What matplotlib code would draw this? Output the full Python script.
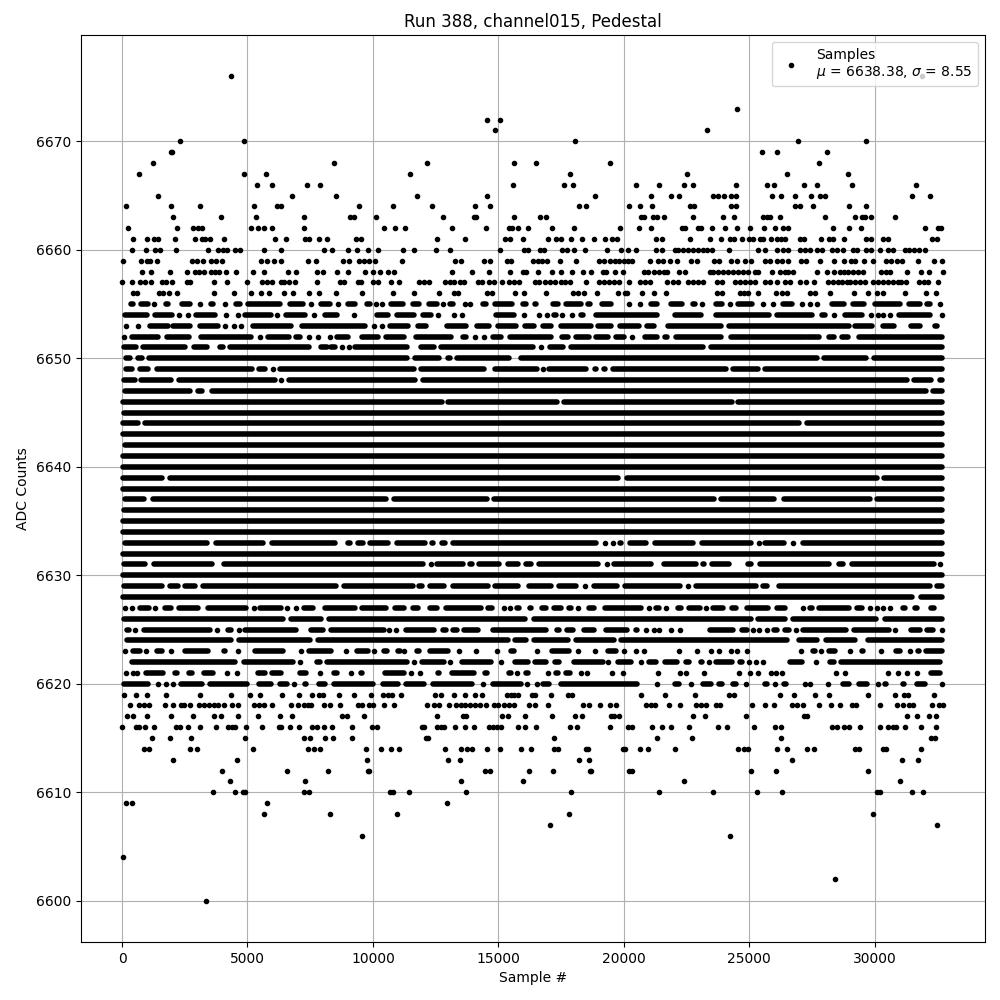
"""
Pedestal samples for run 388, channel015. Stretches where the dots merge into
a solid bar are kept as (first, last) sample runs, the rest as single samples.
"""
import matplotlib

matplotlib.use("Agg")
import matplotlib.pyplot as plt

title = "Run 388, channel015, Pedestal"
legend_label = "Samples\n$\\mu$ = 6638.38, $\\sigma$ = 8.55"

# single samples per ADC level
hits_6676 = [4352, 31895]
hits_6673 = [24530]
hits_6672 = [14541, 15058]
hits_6671 = [14859, 23336]
hits_6670 = [2322, 4870, 18044, 26959, 29666]
hits_6669 = [1964, 2010, 25526, 26123, 28113]
hits_6668 = [1247, 8453, 12152, 15616, 16492, 19438, 27795]
hits_6667 = [690, 4870, 5746, 11476, 17845, 22543, 26521, 28949]
hits_6666 = [5388, 5985, 7378, 7896, 15576, 17606, 17965, 20473, 21388, 22423, 22782,
             24491, 25725, 26003, 27198, 27715, 29109, 31656]
hits_6665 = [1446, 6781, 8533, 11754, 14541, 18840, 21070, 21866, 22224, 23575, 23774,
             24013, 24292, 24491, 25924, 26282, 26839, 27476, 27835, 28034, 31497, 32214]
hits_6664 = [173, 1964, 3118, 5268, 6184, 6343, 9448, 10802, 12351, 14063, 14660, 18203,
             18482, 20194, 20632, 21110, 22662, 22821, 24292, 24491, 26839, 27039, 27556,
             28989, 29666]
hits_6663 = [2044, 3954, 5348, 7259, 9090, 9249, 10125, 12789, 14023, 14103, 15616, 16651,
             16890, 20672, 20791, 21150, 21309, 21587, 22782, 23973, 24411, 25566, 25725,
             25844, 26242, 28034, 29228, 29507, 29626, 29865, 30820]
hits_6662 = [252, 2203, 2840, 3012, 3198, 5149, 5427, 5666, 5985, 7259, 10444, 10901, 11277,
             13148, 14501, 15417, 15536, 15775, 16173, 17129, 18004, 19836, 20592, 21070,
             22344, 22463, 22981, 23071, 23535, 24053, 24530, 25048, 25605, 26043, 26362,
             26561, 28352, 28989, 29467, 32015, 32532, 32651]
hits_6661 = [451, 1008, 1287, 1446, 2123, 2919, 3198, 3318, 3517, 4074, 6104, 6542, 7298,
             7458, 7856, 8174, 9329, 9528, 12550, 13665, 15258, 15457, 15974, 16969, 17288,
             17487, 17885, 18323, 18801, 19238, 19530, 19730, 21269, 21508, 22662, 23456,
             23893, 24239, 24411, 24729, 25008, 25167, 25433, 25566, 25884, 26123, 26282,
             26441, 27025, 27184, 27874, 28193, 28352, 28790, 29666, 29865, 30343, 30542,
             32293, 32492]
hits_6660 = [411, 969, 1327, 1526, 2163, 3437, 3835, 4034, 4193, 4512, 4711, 5666, 6343, 8055,
             8373, 9010, 9369, 9806, 10205, 11210, 11635, 12511, 13068, 15058, 16014, 16173,
             16651, 16810, 17527, 17726, 18004, 18442, 19318, 19876, 20154, 20473, 21269,
             21508, 22065, 22184, 22384, 22583, 22782, 22981, 23177, 23336, 23535, 24212,
             25366, 25645, 26123, 26362, 26561, 27025, 27224, 27423, 27715, 27888, 28312,
             28511, 28750, 29148, 29308, 29679, 29878, 30223, 30542, 30741, 31205, 31378,
             31577, 31776, 32001]
hits_6659 = [53, 770, 1008, 1128, 1407, 2800, 3000, 3238, 3556, 3755, 3994, 5547, 5786, 6064,
             6343, 7418, 7736, 8811, 9050, 9448, 9647, 9846, 10085, 11170, 13267, 13506,
             14422, 14660, 15337, 15496, 16372, 16571, 16730, 16930, 17447, 18084, 19000,
             19199, 19438, 19637, 19796, 19995, 20154, 20313, 21030, 21348, 21547, 21826,
             22105, 22702, 22941, 23615, 23814, 24292, 24530, 24849, 25088, 25645, 25844,
             26123, 26322, 26561, 27078, 27277, 27835, 28392, 28790, 29069, 29228, 29586,
             29945, 30462, 30661, 30900, 31099, 31736, 32373, 32691]
hits_6658 = [809, 1168, 1924, 2601, 2919, 3079, 3278, 3556, 3716, 3875, 4154, 4552, 5228, 5666,
             6622, 6940, 7776, 8015, 8572, 9010, 9687, 10005, 10284, 10603, 10842, 13148,
             13944, 14621, 15457, 15974, 16094, 16571, 17129, 17487, 17925, 18363, 18681,
             19159, 19278, 19637, 19955, 20791, 20950, 21189, 21388, 21587, 21746, 22224,
             22463, 23442, 23575, 23774, 23973, 24172, 24371, 24570, 24769, 24968, 25234,
             25366, 25897, 26229, 26428, 26561, 26760, 27715, 28087, 28392, 28618, 28790,
             28949, 29148, 29347, 29547, 30263, 30449, 30621, 31298, 31856, 32174, 32731]
hits_6657 = [13, 411, 730, 929, 1168, 1606, 1765, 2004, 2601, 2720, 3676, 4193, 4990, 5587,
             5786, 5985, 6343, 6463, 6662, 6900, 7776, 8692, 8851, 9408, 9528, 10005, 10205,
             10722, 11040, 11834, 12033, 12232, 12869, 13068, 13227, 13466, 13625, 14183,
             14355, 14621, 14820, 15138, 15417, 15616, 15815, 16478, 16611, 16876, 17076,
             17275, 17513, 17673, 17845, 18482, 19000, 19199, 19398, 19597, 19796, 20194,
             20658, 20857, 21030, 21746, 21985, 22184, 22583, 22782, 22978, 23177, 23708,
             23907, 24438, 24637, 24836, 25035, 25234, 25632, 25831, 26096, 26428, 26627,
             27025, 27264, 27596, 28153, 28352, 28551, 28684, 28883, 29042, 29215, 29414,
             29613, 29945, 30144, 30343, 30542, 30741, 30940, 31073, 31272, 31776, 31962,
             32134, 32532]
hits_6656 = [451, 610, 1486, 1645, 1884, 2203, 3676, 4472, 5149, 5547, 5865, 6463, 6821, 7458,
             7856, 8533, 9568, 10802, 11635, 12630, 13227, 13386, 14541, 14740, 15656, 16014,
             16890, 17965, 18164, 18403, 18920, 19756, 20035, 20114, 20711, 21189, 21667,
             23734, 23933, 24637, 24809, 24968, 25366, 26083, 26322, 26521, 27437, 27636,
             28233, 29188, 29746, 30104, 30343, 31219, 32068, 32453]
hits_6655 = [1287, 3118, 4114, 7537, 8612, 10125, 10364, 12789, 13692, 13864, 20210, 20645,
             23110, 24239, 25566, 25964, 27091, 27423, 27689, 32616]
hits_6654 = [2282, 2641, 4154, 4631, 6184, 7657, 9249, 12590, 13227, 13546, 16014, 16640, 16930,
             17527, 17925, 28392, 29865, 30144, 30343, 30621, 32692]
hits_6653 = [173, 650, 4114, 4472, 4750, 10045, 10364]
hits_6652 = [93, 5507, 7471, 7816, 8294, 14063, 14421, 20340]
hits_6651 = [8771, 9050, 16704]
hits_6649 = [5998, 16784]
hits_6648 = [6317]
hits_6633 = [19238, 19557, 25380, 26760]
hits_6631 = [12298, 19331, 32630]
hits_6629 = [18469, 22557]
hits_6627 = [119, 385, 1327, 5268, 6582, 6940, 15218, 15483, 18177, 20990, 21706, 23290, 27158,
             29825, 30104, 30343, 30635]
hits_6625 = [531, 3795, 4660, 10643, 10908, 20884, 21216, 21388, 21879, 22251, 25167, 25406,
             25725, 26852, 30808, 32691]
hits_6623 = [133, 969, 1964, 4605, 7126, 8930, 10045, 11237, 13426, 14120, 14939, 16531, 18164,
             18840, 19995, 20473, 20825, 22224, 22941, 23490, 23814, 24292, 24530, 24929,
             27060, 27875, 29029, 30263, 31418]
hits_6622 = [7100, 11635, 13068, 15125, 19358, 20670, 23416, 24997, 25287, 25540, 27675]
hits_6621 = [159, 425, 597, 4193, 4570, 7896, 9130, 11502, 11874, 15762, 16969, 18283, 18522,
             19517, 19955, 21348, 22251, 22503, 23217, 24610, 25048, 25353, 25884, 26083,
             26322, 28471, 28830, 30542, 30940, 31298, 31710]
hits_6620 = [1446, 1752, 2020, 6861, 14395, 16133, 16531, 21308, 22680, 24875, 26043, 27238,
             27437, 28140, 30144, 32691]
hits_6619 = [93, 571, 1008, 1765, 3118, 4352, 5109, 5507, 6383, 7060, 7577, 7856, 8015, 8652,
             9249, 9926, 10404, 10603, 10762, 11104, 12471, 12710, 13227, 13665, 14063, 14342,
             15337, 15496, 15616, 15775, 16332, 16452, 17089, 17766, 17925, 20672, 21627,
             22861, 24212, 24411, 26242, 26800, 27636, 28193, 29746, 30820, 31179, 31338,
             32373]
hits_6618 = [332, 690, 860, 1088, 1725, 2030, 2349, 2482, 2720, 3079, 3278, 3477, 3676, 3835,
             4074, 4392, 4605, 5268, 5467, 5666, 5985, 6741, 7020, 7259, 7418, 7537, 8055,
             8294, 8692, 9408, 9581, 9846, 10005, 10444, 10842, 12152, 12431, 12630, 13028,
             13333, 13493, 13692, 13891, 14090, 14288, 14528, 14820, 14979, 15218, 15417,
             15642, 16213, 16452, 16969, 18363, 18602, 19040, 19438, 19676, 20871, 21083,
             21256, 21786, 22264, 22901, 23071, 23283, 23681, 23840, 25128, 25645, 26003,
             26720, 26919, 27158, 27795, 28272, 28631, 29108, 29281, 30223, 30900, 31139,
             31378, 31537, 32293, 32572, 32731]
hits_6617 = [212, 451, 1008, 1964, 2840, 3676, 3954, 4631, 5427, 6303, 6781, 8784, 8957, 9647,
             12550, 13585, 13705, 15138, 15377, 16054, 17129, 18044, 18323, 19477, 19597,
             19796, 22782, 23257, 24889, 27198, 27317, 31298, 31696, 32174, 32453]
hits_6616 = [13, 571, 690, 929, 1287, 2163, 2322, 2641, 3118, 3755, 4233, 4366, 4512, 4950,
             5587, 6263, 6356, 6701, 7060, 7590, 7790, 8055, 8360, 9170, 9966, 10165, 11953,
             12033, 12550, 12710, 12829, 13267, 13665, 14050, 14620, 14780, 14952, 15112,
             15775, 16054, 16505, 17845, 18124, 19438, 20154, 20313, 21110, 21508, 21866,
             22622, 23774, 24132, 25207, 26043, 26282, 28312, 28511, 28790, 28989, 29427,
             30223, 30542, 30741, 30874, 31219, 31856, 32453]
hits_6615 = [1208, 1924, 2760, 4910, 7259, 7498, 8095, 8413, 9170, 12112, 12192, 17208, 21309,
             22742, 26282, 32253, 32413]
hits_6614 = [889, 1088, 2720, 3000, 5228, 7418, 7657, 7896, 9727, 10324, 10722, 11040, 12869,
             13506, 13745, 13944, 14541, 15058, 15894, 16293, 17208, 17367, 18509, 18588,
             19955, 20035, 20632, 20950, 22065, 24570, 24809, 24968, 26123, 26521, 27317,
             27596, 29228, 29387, 30343, 30475, 31855]
hits_6613 = [2044, 4591, 9767, 12988, 13466, 18203, 18602, 26720, 31099, 31736]
hits_6612 = [3994, 6582, 8214, 9806, 9860, 14461, 14660, 16213, 17168, 18641, 18681, 20194,
             20313, 25088, 26083, 29746]
hits_6611 = [4313, 7298, 13506, 15974, 22423, 31019]
hits_6610 = [3636, 4512, 4830, 4910, 7259, 7458, 10682, 10802, 11436, 13705, 17885, 21388,
             23575, 25327, 26322, 30104, 30223, 31497, 31935]
hits_6609 = [173, 411, 5786, 12949]
hits_6608 = [5666, 8294, 10961, 17805, 29945]
hits_6607 = [17049, 32492]
hits_6606 = [9568, 24252]
hits_6604 = [53]
hits_6602 = [28419]
hits_6600 = [3357]

# merged stretches per ADC level, (first, last) sample
runs_6655 = [(336, 447), (760, 1045), (1769, 1841), (2393, 2703), (3547, 3606), (4542, 4694),
             (5020, 6286), (6705, 7215), (7926, 8276), (9001, 9298), (9757, 9869), (10713, 11193),
             (11586, 11857), (12249, 12560), (13072, 13183), (14372, 14510), (14863, 15532),
             (15991, 16103), (16482, 16501), (17186, 17363), (17716, 18293), (18579, 18664),
             (19150, 19487), (21100, 21345), (21897, 22340), (22759, 22844), (23685, 23929),
             (24548, 25124), (26339, 26716), (28303, 28773), (29126, 29569), (30013, 31029),
             (31355, 31825), (32111, 32223)]
runs_6654 = [(97, 978), (1331, 1973), (2950, 3698), (4914, 5955), (6533, 7281), (8098, 8582),
             (10156, 10600), (10952, 11657), (12010, 12321), (14903, 15638), (17212, 17297),
             (18287, 18372), (18911, 21345), (22029, 23067), (23685, 25787), (26113, 27512),
             (27905, 28043), (28821, 29503), (30984, 32223)]
runs_6653 = [(1132, 1818), (2034, 2703), (3096, 3805), (5219, 6724), (7183, 9670), (10686, 11392),
             (11811, 12122), (12939, 13714), (14160, 14643), (15000, 15705), (16084, 16435),
             (16787, 17098), (17504, 18691), (18977, 19487), (19866, 20615), (20928, 21212),
             (21763, 23863), (24189, 28972), (29232, 29901), (30320, 30764), (31448, 31799),
             (32417, 32489)]
runs_6652 = [(402, 1436), (1795, 2674), (3149, 5158), (5803, 6644), (6944, 7082), (8563, 9007),
             (9558, 10201), (10527, 11259), (11718, 13117), (13603, 13714), (14770, 15108),
             (15460, 17098), (17557, 17762), (18114, 18624), (18911, 19354), (19707, 20018),
             (20835, 21345), (21631, 21743), (22096, 23863), (24280, 27250), (27360, 27780),
             (28200, 28370), (28700, 28960), (29400, 29950), (29980, 32700)]
runs_6651 = [(70, 540), (840, 2500), (2880, 3380), (3890, 4030), (4320, 7440), (7930, 8180),
             (8340, 8500), (9290, 11370), (11900, 12430), (12730, 16370), (17050, 17560),
             (17915, 23170), (23490, 32690)]
runs_6650 = [(140, 320), (630, 780), (1070, 11370), (11680, 12650), (13000, 13090), (13360, 15440),
             (15890, 27690), (27990, 29680), (29980, 32690)]
runs_6649 = [(140, 410), (710, 1050), (1400, 5160), (5450, 5690), (6280, 11630), (11900, 14440),
             (14860, 16540), (17030, 18490), (18840, 18890), (19220, 19250), (19570, 24060),
             (24350, 25360), (25640, 32700)]
runs_6648 = [(70, 510), (770, 1950), (2270, 6090), (6670, 11680), (12010, 31290), (31590, 32250),
             (32600, 32690)]
runs_6647 = [(100, 2700), (3030, 3190), (3590, 32060), (32340, 32700)]
runs_6646 = [(30, 12750), (13000, 17340), (17620, 24300), (24550, 32700)]
runs_6645 = [(70, 32700)]
runs_6644 = [(30, 620), (920, 26980), (27310, 32700)]
runs_6643 = [(30, 32690)]
runs_6642 = [(110, 32690)]
runs_6641 = [(30, 32700)]
runs_6640 = [(30, 32700)]
runs_6639 = [(30, 1580), (1900, 19780), (20130, 30100), (30390, 32690)]
runs_6638 = [(30, 32700)]
runs_6637 = [(100, 870), (1230, 10530), (10850, 14550), (14840, 23600), (23880, 25990),
             (26380, 29810), (30090, 32690)]
runs_6636 = [(70, 32690)]
runs_6635 = [(30, 32700)]
runs_6634 = [(30, 32700)]
runs_6633 = [(100, 3370), (3760, 5620), (5980, 8480), (8990, 9070), (9390, 9600), (9890, 10600),
             (10950, 12060), (12340, 12390), (12740, 12890), (13200, 18890), (19840, 19910),
             (20260, 20880), (21260, 22770), (23120, 25080), (25640, 26380), (27160, 32690)]
runs_6632 = [(30, 32700)]
runs_6631 = [(70, 910), (1270, 3590), (4080, 11990), (12540, 13580), (13870, 13940), (14240, 15040),
             (15390, 15800), (16120, 16300), (16630, 18960), (19600, 21080), (21590, 22870),
             (23150, 23200), (23530, 24200), (24510, 24530), (24950, 25080), (25440, 28180),
             (28600, 28750), (29090, 32360)]
runs_6630 = [(30, 32700)]
runs_6629 = [(70, 1600), (1920, 2240), (2500, 2900), (3230, 8540), (8860, 11590), (11850, 11950),
             (12280, 12850), (13180, 14600), (14880, 15770), (16230, 17100), (17410, 18090),
             (18820, 19750), (20050, 22250), (22870, 25260), (25540, 25720), (26210, 32220),
             (32510, 32690)]
runs_6628 = [(30, 31490), (31870, 32700)]
runs_6627 = [(733, 1071), (1702, 1947), (2260, 3035), (3414, 4959), (5511, 6353), (7236, 7613),
             (8099, 9272), (9558, 10533), (10885, 11259), (11586, 11817), (12276, 12560),
             (12912, 14312), (14598, 14736), (15752, 15838), (16257, 16302), (16734, 16899),
             (17212, 17496), (17822, 17894), (18619, 18797), (19242, 20708), (21273, 21411),
             (22175, 22274), (22600, 23040), (23579, 23969), (24322, 24460), (24906, 25747),
             (26100, 26411), (27427, 27512), (27799, 28972), (29285, 29503), (31116, 31201),
             (31607, 31693), (32244, 32356)]
runs_6626 = [(70, 6420), (6730, 7950), (8250, 16060), (16420, 25080), (25360, 26450), (26760, 30070),
             (30410, 32690)]
runs_6625 = [(203, 275), (866, 3499), (4210, 4335), (4914, 6950), (7528, 8011), (8324, 10440),
             (11320, 12454), (12780, 12918), (13204, 13356), (13642, 14179), (14770, 16899),
             (17345, 17430), (17743, 17961), (18406, 18823), (19282, 20150), (20503, 20522),
             (23459, 24367), (24720, 24925), (26007, 26119), (26445, 26584), (27162, 28880),
             (29192, 30564), (31448, 31825), (32111, 32330)]
runs_6624 = [(200, 4360), (4650, 7480), (7830, 15370), (15660, 16100), (16420, 17760), (18090, 19620),
             (19910, 26520), (27000, 27710), (28060, 29240), (29760, 32690)]
runs_6623 = [(442, 713), (1397, 1575), (2525, 3406), (4051, 4097), (5312, 6419), (7435, 8343),
             (9360, 9803), (10448, 10572), (11018, 11100), (11745, 11857), (12276, 12984),
             (15487, 15638), (16018, 16036), (17159, 17828), (19375, 19686), (23000, 23020),
             (27560, 27645), (28197, 28441), (29497, 29543), (30851, 31029), (31727, 31759),
             (32072, 32700)]
runs_6622 = [(402, 4495), (4847, 6817), (7767, 7879), (8165, 11366), (11944, 12825), (13536, 14710),
             (15659, 16169), (16482, 16899), (17252, 17430), (18008, 19155), (19773, 20283),
             (21007, 21278), (21631, 22141), (22467, 22605), (23088, 23133), (23685, 24327),
             (24640, 24726), (26100, 26119), (26631, 27114), (28223, 28400), (28661, 32621)]
runs_6621 = [(972, 1641), (2127, 2172), (2658, 2796), (3255, 3632), (5405, 5689), (5975, 6353),
             (7103, 7348), (8457, 8582), (9519, 9564), (10487, 11259), (12607, 12653), (13138, 14020),
             (14465, 14537), (15407, 15506), (16097, 16196), (17318, 17364), (17716, 17868),
             (32244, 32621)]
runs_6620 = [(70, 1045), (2353, 3168), (3520, 4977), (5445, 5947), (6280, 6560), (7302, 7348),
             (7833, 8078), (8430, 9997), (10421, 11000), (11320, 12056), (12408, 13940), (14797, 15904),
             (16787, 17032), (17517, 20548), (22029, 22207), (23154, 23465), (23818, 23929),
             (24349, 24460), (25649, 25721), (26405, 26451), (28728, 28972), (29391, 29702),
             (30426, 30472), (31116, 31162), (31687, 32024)]

hit_levels = [6676, 6673, 6672, 6671, 6670, 6669, 6668, 6667, 6666, 6665, 6664, 6663, 6662, 6661,
              6660, 6659, 6658, 6657, 6656, 6655, 6654, 6653, 6652, 6651, 6649, 6648, 6633, 6631,
              6629, 6627, 6625, 6623, 6622, 6621, 6620, 6619, 6618, 6617, 6616, 6615, 6614, 6613,
              6612, 6611, 6610, 6609, 6608, 6607, 6606, 6604, 6602, 6600]
run_levels = list(range(6655, 6619, -1))

sample_x = []
sample_y = []
for level in hit_levels:
    for sample in globals()[f"hits_{level}"]:
        sample_x.append(sample)
        sample_y.append(level)

fig, ax = plt.subplots(figsize=(10, 10))
ax.plot(sample_x, sample_y, "k.", label=legend_label)

# solid stretches, same width as the dots
for level in run_levels:
    runs = globals()[f"runs_{level}"]
    ax.hlines([level] * len(runs), [r[0] for r in runs], [r[1] for r in runs],
              colors="k", linewidth=4, capstyle="round", zorder=2)

ax.set_xlim(-1638, 34405)
ax.set_ylim(6596.2, 6679.8)
ax.set_title(title)
ax.set_xlabel("Sample #")
ax.set_ylabel("ADC Counts")
ax.grid(True)
ax.legend(loc="upper right")

fig.subplots_adjust(left=0.081, right=0.985, top=0.965, bottom=0.058)
fig.savefig("out.png", dpi=100)
